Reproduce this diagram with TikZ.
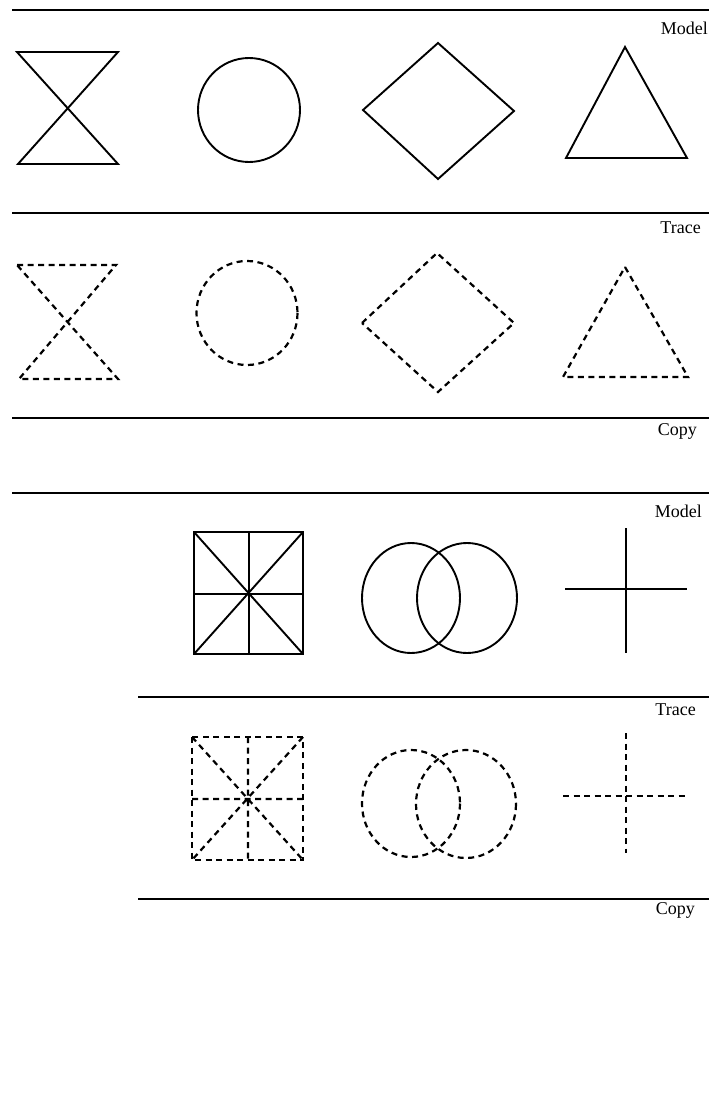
\documentclass[tikz,border=0pt]{standalone}
\usepackage{fontspec}
\setmainfont{Liberation Serif}
\begin{document}
\begin{tikzpicture}[x=1pt,y=-1pt,
  rule/.style={line width=2pt},
  solidshape/.style={line width=1.9pt, line join=miter},
  dashshape/.style={line width=2.2pt, dash pattern=on 6pt off 4.5pt},
  lbl/.style={anchor=base east, inner sep=0pt, font=\fontsize{18}{20}\selectfont}]
\useasboundingbox (0,0) rectangle (709,1097);
% ---------- first block ----------
\coordinate (r1a) at (12,10);   \coordinate (r1b) at (709,10);
\coordinate (r2a) at (12,213);  \coordinate (r2b) at (709,213);
\coordinate (r3a) at (12,418);  \coordinate (r3b) at (709,418);
\draw[rule] (r1a) -- (r1b);
\draw[rule] (r2a) -- (r2b);
\draw[rule] (r3a) -- (r3b);
\node[lbl] (model1) at (708,35) {Model};
\node[lbl] (trace1) at (701,233) {Trace};
\node[lbl] (copy1) at (697,435) {Copy};
% model shapes
\draw[solidshape] (17,52) -- (118,52) -- (18,164) -- (118,164) -- cycle;
\draw[solidshape] (249,110) ellipse (51 and 52);
\draw[solidshape] (363,110) -- (438,43) -- (514,111) -- (438,179) -- cycle;
\draw[solidshape] (625,47) -- (687,158) -- (566,158) -- cycle;
% trace shapes
\draw[dashshape] (17,265) -- (116,265) -- (19,379) -- (118,379) -- cycle;
\draw[dashshape] (247,313) ellipse (50.5 and 52);
\draw[dashshape] (362,323) -- (437,253) -- (514,323) -- (438,392) -- cycle;
\draw[dashshape] (625,267) -- (688,377) -- (563,377) -- cycle;
% ---------- second block ----------
\coordinate (s1a) at (12,493);  \coordinate (s1b) at (709,493);
\coordinate (s2a) at (138,697); \coordinate (s2b) at (709,697);
\coordinate (s3a) at (138,899); \coordinate (s3b) at (709,899);
\draw[rule] (s1a) -- (s1b);
\draw[rule] (s2a) -- (s2b);
\draw[rule] (s3a) -- (s3b);
\node[lbl] (model2) at (702,517) {Model};
\node[lbl] (trace2) at (696,715) {Trace};
\node[lbl] (copy2) at (695,914) {Copy};
% model shapes
\draw[solidshape] (194,532) rectangle (303,654);
\draw[solidshape] (194,532) -- (303,654) (303,532) -- (194,654)
  (249,532) -- (249,654) (194,594) -- (303,594);
\draw[solidshape] (411,598) ellipse (49 and 55);
\draw[solidshape] (467,598) ellipse (50 and 55);
\draw[solidshape] (626,528) -- (626,653) (565,589) -- (687,589);
% trace shapes
\draw[dashshape] (192,737) rectangle (303,860);
\draw[dashshape] (192,737) -- (303,860) (303,737) -- (192,860)
  (248,737) -- (248,860) (192,799) -- (303,799);
\draw[dashshape] (411,803.5) ellipse (49 and 53.5);
\draw[dashshape] (466,804) ellipse (50 and 54);
\draw[dashshape] (626,733) -- (626,853) (563,796) -- (685,796);
\end{tikzpicture}
\end{document}
